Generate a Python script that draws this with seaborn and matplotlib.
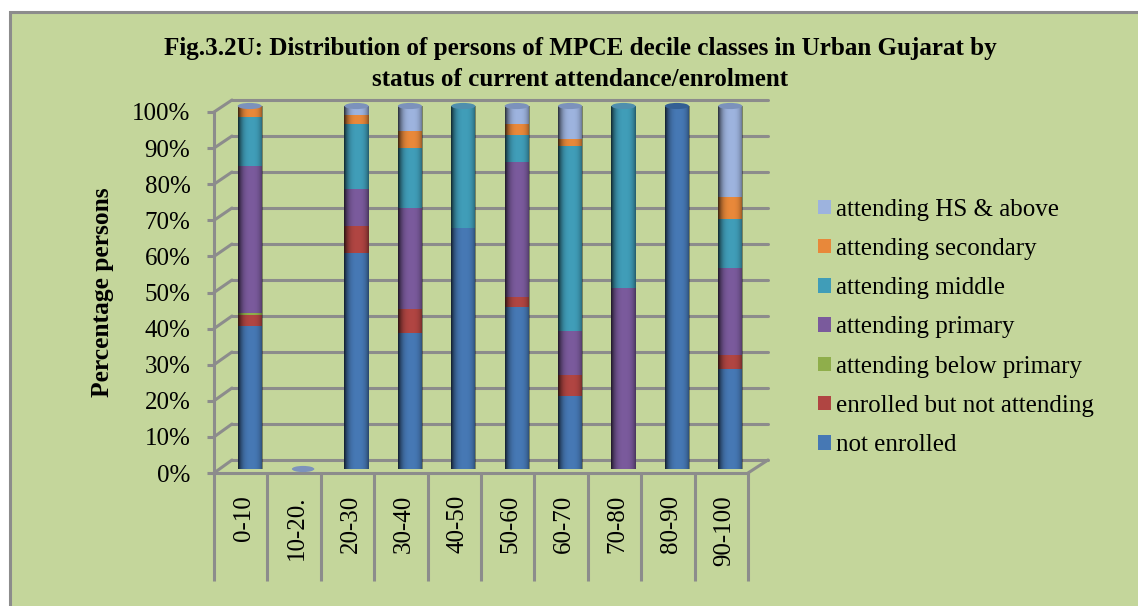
"""
Stacked cylinder style bars of attendance status by MPCE decile class
"""

import numpy as np
import matplotlib
matplotlib.use("Agg")
import matplotlib.pyplot as plt
from matplotlib.lines import Line2D
from matplotlib.patches import Ellipse, Patch, Rectangle
from matplotlib.ticker import FixedLocator, NullFormatter
from matplotlib.transforms import ScaledTranslation
import seaborn as sns

categories = ['0-10', '10-20.', '20-30', '30-40', '40-50', '50-60', '60-70', '70-80', '80-90', '90-100']
y_ticks = [0, 10, 20, 30, 40, 50, 60, 70, 80, 90, 100]

not_enrolled = [39.5, 0, 59.5, 37.5, 66.5, 44.5, 20, 0, 100, 27.5]
enrolled_not_attending = [3, 0, 7.5, 6.5, 0, 3, 6, 0, 0, 4]
below_primary = [0.5, 0, 0, 0, 0, 0, 0, 0, 0, 0]
primary = [40.5, 0, 10, 28, 0, 37, 12, 50, 0, 24]
middle = [13.5, 0, 18, 16.5, 33.5, 7.5, 51, 50, 0, 13.5]
secondary = [3, 0, 2.5, 4.5, 0, 3, 2, 0, 0, 6]
hs_above = [0, 0, 2.5, 7, 0, 5, 9, 0, 0, 25]

series_names = ['not enrolled', 'enrolled but not attending', 'attending below primary',
                'attending primary', 'attending middle', 'attending secondary', 'attending HS & above']
series_values = [not_enrolled, enrolled_not_attending, below_primary, primary, middle, secondary, hs_above]
colors = ['#4678B4', '#B04542', '#8FAE4B', '#7A5A9C', '#409DB8', '#E8883A', '#9DB3DE']

W, H = 1138, 606
BG = '#C4D69B'
GREY = '#8C8C8C'
SERIF = 'Liberation Serif'


def rect(left, top, right, bottom):
    # pixel box to figure fractions
    return [left / W, 1 - bottom / H, (right - left) / W, (bottom - top) / H]


def line(x0, y0, x1, y1):
    fig.add_artist(Line2D([x0 / W, x1 / W], [1 - y0 / H, 1 - y1 / H], color=GREY, lw=2.2,
                          transform=fig.transFigure, zorder=1))


sns.set_style('white')
plt.rcParams['font.family'] = [SERIF, 'DejaVu Serif']
plt.rcParams['text.color'] = 'black'
plt.rcParams['axes.labelcolor'] = 'black'

fig = plt.figure(figsize=(W / 100, H / 100), dpi=100, facecolor='white')
fig.add_artist(Rectangle((9.5 / W, -0.1), 2, 1.1 - 12.5 / H, transform=fig.transFigure,
                         facecolor=BG, edgecolor=GREY, lw=2.2, zorder=0))

# back wall with its gridlines
wall = fig.add_axes(rect(232, 100, 768, 460), facecolor='none', zorder=1)
wall.set_xlim(0, 1)
wall.set_ylim(0, 100)
wall.set_yticks(y_ticks)
wall.set_xticks([])
wall.tick_params(labelleft=False, left=False)
wall.grid(axis='y', color=GREY, lw=2.2)
for gridline in wall.get_ygridlines():
    gridline.set_clip_on(False)
sns.despine(ax=wall, left=True, bottom=True, right=True, top=True)

# front plane with the labelled axes
front = fig.add_axes(rect(214, 112, 748, 473), facecolor='none', zorder=2)
front.set_xlim(-0.5, 9.5)
front.set_ylim(0, 100)
front.set_yticks(y_ticks)
front.set_yticklabels([f'{v}%' for v in y_ticks], fontsize=18)
front.tick_params(axis='y', length=5, width=2.2, color=GREY, pad=12, left=True, labelcolor='black')
front.xaxis.set_major_locator(FixedLocator(np.arange(-0.5, 10)))
front.xaxis.set_major_formatter(NullFormatter())
front.xaxis.set_minor_locator(FixedLocator(np.arange(10)))
front.set_xticklabels(categories, minor=True, rotation=90, fontsize=18, va='top', ha='center')
front.tick_params(axis='x', which='major', length=78, width=2.2, color=GREY, bottom=True)
front.tick_params(axis='x', which='minor', length=0, pad=16, labelcolor='black')
for label in front.get_xticklabels(minor=True):
    label.set_transform(label.get_transform() + ScaledTranslation(3 / 100, 0, fig.dpi_scale_trans))
sns.despine(ax=front, top=True, right=True)
for side in ['left', 'bottom']:
    front.spines[side].set_color(GREY)
    front.spines[side].set_linewidth(2.2)
front.set_ylabel('Percentage persons', fontsize=18.4, fontweight='bold', labelpad=0)
front.yaxis.set_label_coords((114 - 214) / 534, 0.5)

# slanted connectors between the front plane and the wall
for v in y_ticks:
    line(214, 473 - 3.61 * v, 232, 460 - 3.6 * v)
line(748, 473, 768, 460)

# bars
ax = fig.add_axes(rect(223, 106, 757, 469), facecolor='none', zorder=3)
bottoms = np.zeros(len(categories))
for name, values, color in zip(series_names, series_values, colors):
    sns.barplot(x=categories, y=values, bottom=bottoms, color=color, saturation=1,
                width=0.45, order=categories, ax=ax, zorder=2, linewidth=0, edgecolor='none')
    bottoms = bottoms + np.array(values)

# darker edges so the bars read as cylinders
shade = np.zeros((1, 40, 4))
shade[0, :, 3] = np.abs(np.linspace(-1, 1, 40) - 0.1) ** 3 * 0.55
for i, total in enumerate(bottoms):
    if total > 0:
        ax.imshow(shade, extent=(i - 0.225, i + 0.225, 0, total), aspect='auto', zorder=3)
    top_color = '#7C92BC'
    if i == 4 or i == 7:
        top_color = '#4F8FAE'
    if i == 8:
        top_color = '#335F94'
    ax.add_patch(Ellipse((i, total), 0.45 if total else 0.42, 1.7, facecolor=top_color,
                         edgecolor='none', clip_on=False, zorder=4))
ax.set_xlim(-0.5, 9.5)
ax.set_ylim(0, 100)
ax.axis('off')

fig.text(580 / W, 1 - 48 / H, 'Fig.3.2U: Distribution of persons of MPCE decile classes in Urban Gujarat by',
         fontsize=18.1, fontweight='bold', ha='center', va='center')
fig.text(580 / W, 1 - 79 / H, 'status of current attendance/enrolment',
         fontsize=18.1, fontweight='bold', ha='center', va='center')

handles = [Patch(facecolor=c, edgecolor='none', label=n) for n, c in zip(series_names, colors)][::-1]
fig.legend(handles=handles, loc='center left', bbox_to_anchor=(818 / W, 1 - 327.5 / H), frameon=False,
           fontsize=18, handlelength=0.52, handleheight=0.52, handletextpad=0.2, labelspacing=0.69,
           borderpad=0, borderaxespad=0)

fig.savefig('out.png', dpi=100)
